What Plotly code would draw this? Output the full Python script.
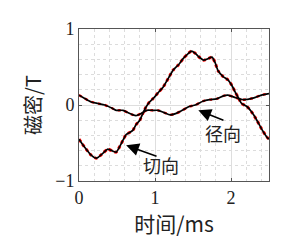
import plotly.graph_objects as go

# Tangential flux density (切向)
t_tan = [0.00, 0.07, 0.16, 0.23, 0.32, 0.38, 0.45, 0.49, 0.56, 0.62, 0.67, 0.71, 0.75,
         0.80, 0.84, 0.88, 0.92, 0.97, 1.04, 1.11, 1.18, 1.24, 1.31, 1.37, 1.44, 1.48,
         1.53, 1.57, 1.64, 1.70, 1.75, 1.79, 1.83, 1.90, 1.96, 2.01, 2.05, 2.10, 2.14,
         2.21, 2.27, 2.34, 2.40, 2.47, 2.50]
b_tan = [-0.45, -0.55, -0.66, -0.70, -0.63, -0.58, -0.61, -0.62, -0.50, -0.39, -0.36, -0.33, -0.26,
         -0.20, -0.11, -0.03, 0.03, 0.08, 0.16, 0.24, 0.36, 0.46, 0.53, 0.61, 0.68, 0.71,
         0.68, 0.64, 0.59, 0.61, 0.63, 0.56, 0.45, 0.37, 0.33, 0.26, 0.18, 0.09, 0.02,
         -0.02, -0.09, -0.20, -0.31, -0.42, -0.45]

# Radial flux density (径向)
t_rad = [0.00, 0.07, 0.16, 0.25, 0.34, 0.43, 0.49, 0.58, 0.64, 0.71, 0.75, 0.82, 0.89,
         0.97, 1.04, 1.12, 1.20, 1.28, 1.36, 1.45, 1.53, 1.63, 1.72, 1.81, 1.90, 1.96,
         2.05, 2.16, 2.29, 2.40, 2.50]
b_rad = [0.13, 0.09, 0.04, 0.02, 0.00, -0.04, -0.07, -0.07, -0.10, -0.13, -0.14, -0.11, -0.07,
         -0.07, -0.07, -0.10, -0.13, -0.11, -0.07, -0.02, 0.00, 0.05, 0.07, 0.08, 0.12, 0.13,
         0.10, 0.07, 0.09, 0.13, 0.15]

x_ticks = [0, 1, 2]
y_ticks = [-1, 0, 1]
y_tick_text = ["\u22121", "0", "1"]

serif = "Liberation Serif"
cjk = "Noto Sans CJK SC"

fig = go.Figure()
# red dashed curve (slightly wider, underneath)
fig.add_trace(go.Scatter(x=t_tan, y=b_tan, mode="lines",
                         line=dict(color="#ff0000", width=3.0, dash="3px,3px", shape="spline", smoothing=0.6),
                         hoverinfo="skip", showlegend=False))
fig.add_trace(go.Scatter(x=t_rad, y=b_rad, mode="lines",
                         line=dict(color="#ff0000", width=2.4, dash="3px,4px", shape="spline", smoothing=0.6),
                         hoverinfo="skip", showlegend=False))
# black solid curves on top
for tx, by in [(t_tan, b_tan), (t_rad, b_rad)]:
    fig.add_trace(go.Scatter(x=tx, y=by, mode="lines",
                             line=dict(color="#000000", width=1.7, shape="spline", smoothing=0.6),
                             hoverinfo="skip", showlegend=False))

axis_common = dict(showline=True, mirror="ticks", linecolor="#555555", linewidth=1,
                   ticks="inside", ticklen=3, tickcolor="#555555",
                   showgrid=True, gridcolor="#dedede", gridwidth=1, zeroline=False,
                   tickfont=dict(family=serif, size=18, color="#222222"))

fig.update_xaxes(range=[0, 2.5], tickvals=x_ticks, ticktext=[str(v) for v in x_ticks],
                 minor=dict(dtick=0.2, tick0=0, showgrid=True, gridcolor="#dcdcdc", griddash="dot", gridwidth=1, ticks=""),
                 title=dict(text="时间/ms", font=dict(family=cjk, size=21, color="#222222"), standoff=6),
                 **axis_common)
fig.update_yaxes(range=[-1, 1], tickvals=y_ticks, ticktext=y_tick_text,
                 minor=dict(dtick=0.2, tick0=0, showgrid=True, gridcolor="#dcdcdc", griddash="dot", gridwidth=1, ticks=""),
                 title=dict(text="磁密/T", font=dict(family=cjk, size=20, color="#222222"), standoff=8),
                 **axis_common)

# annotations: labels and arrows
fig.add_annotation(x=1.08, y=-0.79, text="切向", showarrow=False,
                   font=dict(family=cjk, size=18, color="#222222"))
fig.add_annotation(x=1.90, y=-0.37, text="径向", showarrow=False,
                   font=dict(family=cjk, size=18, color="#222222"))
fig.add_annotation(x=0.62, y=-0.53, ax=1.04, ay=-0.68, axref="x", ayref="y", text="",
                   showarrow=True, arrowhead=2, arrowsize=1.6, arrowwidth=1.6, arrowcolor="#000000")
fig.add_annotation(x=1.57, y=-0.07, ax=1.92, ay=-0.21, axref="x", ayref="y", text="",
                   showarrow=True, arrowhead=2, arrowsize=1.6, arrowwidth=1.6, arrowcolor="#000000")

fig.update_layout(width=292, height=240, margin=dict(l=79, r=23, t=29, b=59),
                  paper_bgcolor="white", plot_bgcolor="white")

fig.write_html("out.html")
